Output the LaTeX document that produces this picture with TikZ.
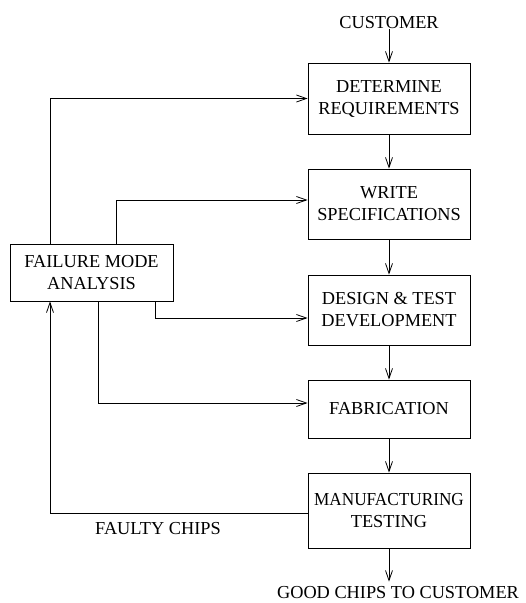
\documentclass[tikz,border=0pt]{standalone}
\usepackage{fontspec}
\setmainfont{Liberation Serif}
\usetikzlibrary{arrows.meta}

\begin{document}
\begin{tikzpicture}[x=1pt,y=-1pt,
  every node/.style={font=\fontsize{18.3}{22}\selectfont, inner sep=0pt},
  box/.style={draw, line width=0.8pt, align=center, minimum width=162pt},
  lbl/.style={},
  arr/.style={line width=0.8pt, -{Straight Barb[length=10pt,width=7pt,line width=0.8pt]}}
]
\useasboundingbox (0,0) rectangle (526,603);

% process chain
\node[box, minimum height=71pt] (req)    at (389,98.5)  {DETERMINE\\REQUIREMENTS};
\node[box, minimum height=70pt] (spec)   at (389,204)   {WRITE\\SPECIFICATIONS};
\node[box, minimum height=70pt] (design) at (389,310)   {DESIGN \& TEST\\DEVELOPMENT};
\node[box, minimum height=58pt] (fab)    at (389,409)   {FABRICATION};
\node[box, minimum height=75pt] (test)   at (389,510.5) {\scalebox{0.94}[1]{MANUFACTURING}\\TESTING};
\node[box, minimum width=163pt, minimum height=57pt] (fma) at (91.5,272.5) {FAILURE MODE\\ANALYSIS};

% labels
\node[lbl] (cust)   at (389,22.5)  {CUSTOMER};
\node[lbl] (good)   at (398,593) {GOOD CHIPS TO CUSTOMER};
\node[lbl] (faulty) at (158,528.5) {FAULTY CHIPS};

% x positions of the feedback lines
\coordinate (xa) at (50,0);
\coordinate (xb) at (116,0);
\coordinate (xc) at (155,0);
\coordinate (xd) at (98,0);

% main flow
\draw[arr] (cust.south) -- (req.north);
\draw[arr] (req) -- (spec);
\draw[arr] (spec) -- (design);
\draw[arr] (design) -- (fab);
\draw[arr] (fab) -- (test);
\draw[arr] (test.south) -- ([yshift=5pt]test.south |- good.north);

% failure analysis feedback
\draw[arr] (fma.north -| xa) |- (req.west);
\draw[arr] (fma.north -| xb) |- ([yshift=4pt]spec.west);
\draw[arr] (fma.south -| xc) |- ([yshift=-8pt]design.west);
\draw[arr] (fma.south -| xd) |- ([yshift=6pt]fab.west);
\draw[arr] ([yshift=-2.5pt]test.west) -| (fma.south -| xa);
\end{tikzpicture}
\end{document}
